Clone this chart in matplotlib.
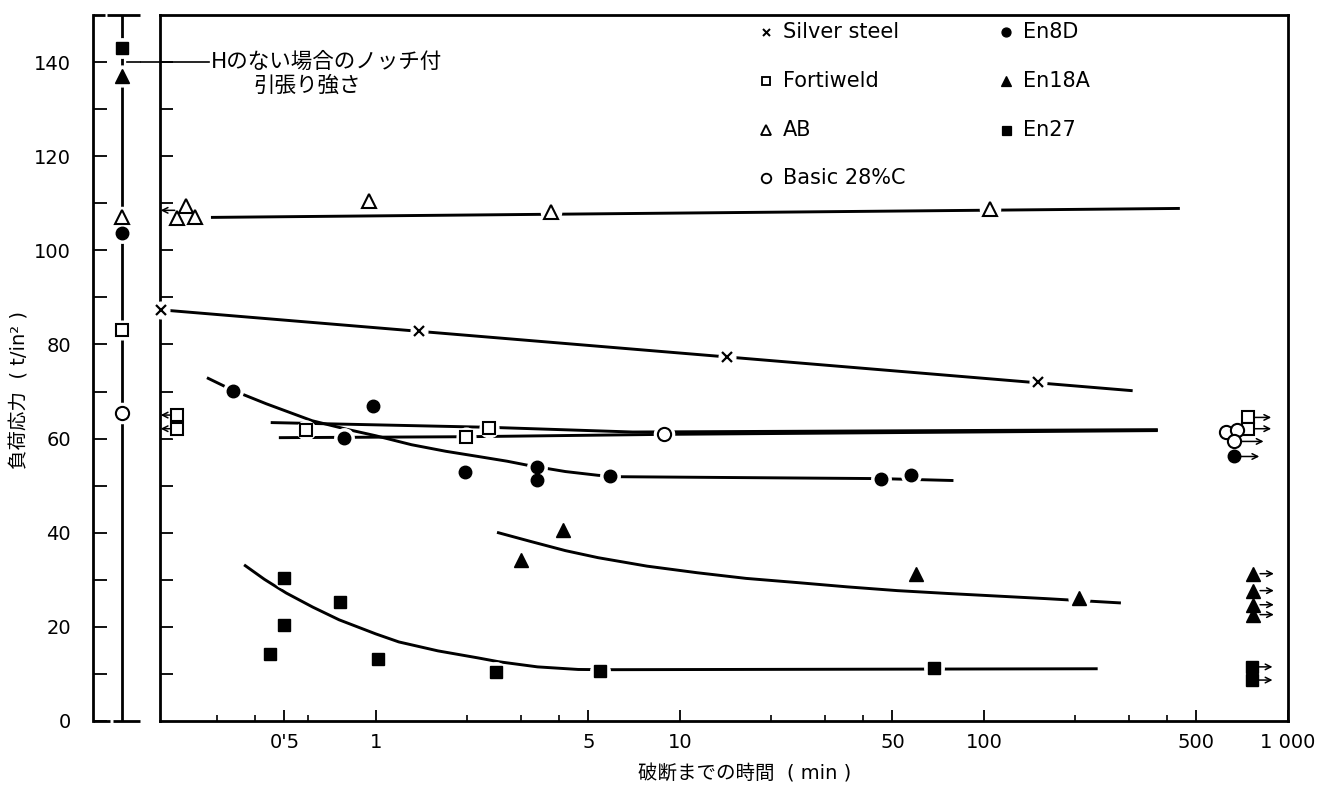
import matplotlib
matplotlib.use("Agg")
import matplotlib.pyplot as plt

plt.rcParams['font.family'] = ['DejaVu Sans', 'Noto Sans CJK JP']

W, H = 1322, 785

# ---- time to fracture (min) vs applied stress (t/in^2) ----
silver_t = [0.196, 1.39, 14.3, 151]
silver_s = [87.4, 82.8, 77.4, 72.1]
silver_fit_t = [0.21, 305]
silver_fit_s = [87.2, 70.2]

ab_t = [0.221, 0.238, 0.255, 0.95, 3.78, 104.6]
ab_s = [106.8, 109.4, 107.0, 110.4, 108.1, 108.7]
ab_fit_t = [0.29, 436]
ab_fit_s = [107.0, 108.9]

fortiweld_t = [0.59, 1.98, 2.36]
fortiweld_s = [61.9, 60.4, 62.3]
fortiweld_fit_t = [0.456, 2.36, 7.0, 369]
fortiweld_fit_s = [63.4, 62.4, 61.4, 61.9]

basic_t = [8.87]
basic_s = [60.9]
basic_fit_t = [0.485, 1.98, 8.87, 369]
basic_fit_s = [60.2, 60.4, 60.9, 61.7]

en8d_t = [0.34, 0.785, 0.98, 1.97, 3.40, 3.40, 5.89, 45.9, 57.7]
en8d_s = [70.2, 60.2, 67.0, 52.8, 54.0, 51.3, 52.1, 51.5, 52.3]
en8d_fit_t = [0.281, 0.34, 0.436, 0.617, 0.8, 1.0, 1.31, 1.70, 2.17, 2.7,
              3.18, 4.2, 5.38, 6.35, 45.6, 78.5]
en8d_fit_s = [72.8, 70.2, 67.4, 63.8, 62.0, 60.6, 58.7, 57.3, 56.2, 55.2,
              54.3, 53.0, 52.2, 51.9, 51.5, 51.1]

en18a_t = [3.01, 4.13, 59.8, 205]
en18a_s = [34.3, 40.6, 31.2, 26.2]
en18a_fit_t = [2.53, 3.25, 4.2, 5.38, 7.8, 11.4, 16.5, 24.4, 35.5, 51.9,
               75.7, 160, 279]
en18a_fit_s = [40.0, 38.1, 36.2, 34.7, 32.9, 31.5, 30.3, 29.4, 28.5, 27.7,
               27.1, 26.0, 25.1]

en27_t = [0.449, 0.50, 0.50, 0.762, 1.015, 2.49, 5.47, 68.6]
en27_s = [14.3, 30.4, 20.4, 25.3, 13.2, 10.4, 10.6, 11.3]
en27_fit_t = [0.372, 0.43, 0.507, 0.62, 0.757, 1.0, 1.19, 1.6, 2.17, 2.53,
              3.4, 4.63, 5.8, 234]
en27_fit_s = [33.0, 30.1, 27.2, 24.2, 21.5, 18.5, 16.8, 14.9, 13.4, 12.6,
              11.5, 10.95, 10.9, 11.1]

# specimens that fractured immediately on loading (arrow to the left)
fortiweld_short_t = [0.221, 0.221]
fortiweld_short_s = [65.0, 62.1]
ab_short_s = [108.5]

# unbroken specimens (arrow to the right)
fortiweld_run_t = [740, 740]
fortiweld_run_s = [64.5, 62.1]
basic_run_t = [627, 681, 665]
basic_run_s = [61.3, 61.9, 59.4]
basic_run_arrow = [False, False, True]
en8d_run_t = [665]
en8d_run_s = [56.2]
en18a_run_t = [768, 768, 768, 768]
en18a_run_s = [31.3, 27.7, 24.7, 22.6]
en27_run_t = [760, 760]
en27_run_s = [11.5, 8.7]

# notched tensile strength without hydrogen
notch_names = ['En27', 'En18A', 'AB', 'En8D', 'Fortiweld', 'Basic']
notch_s = [143, 137, 107, 103.6, 83, 65.5]

xtick_vals = [0.5, 1, 5, 10, 50, 100, 500, 1000]
xtick_labels = ["0'5", '1', '5', '10', '50', '100', '500', '1 000']
xminor_vals = [0.3, 0.4, 0.6, 2, 3, 4, 20, 30, 40, 200, 300, 400]

style = {
    'Silver steel': dict(marker='x', mfc='black', ms=7, mew=1.6),
    'Fortiweld': dict(marker='s', mfc='white', ms=8.5, mew=1.5),
    'AB': dict(marker='^', mfc='white', ms=9.5, mew=1.5),
    'Basic': dict(marker='o', mfc='white', ms=9.5, mew=1.5),
    'En8D': dict(marker='o', mfc='black', ms=9, mew=1.0),
    'En18A': dict(marker='^', mfc='black', ms=10, mew=1.0),
    'En27': dict(marker='s', mfc='black', ms=9, mew=1.0),
}

LW = 2.1


def fx(px):
    return px / W


def fy(py):
    return 1 - py / H


def marks(ax, t, s, key, **kw):
    st = style[key]
    # white halo so that lines stop short of each symbol
    ax.plot(t, s, linestyle='none', marker='o', ms=st['ms'] + 5, mfc='white',
            mec='white', zorder=3, clip_on=False, **kw)
    ax.plot(t, s, linestyle='none', marker=st['marker'], ms=st['ms'],
            mfc=st['mfc'], mec='black', mew=st['mew'], zorder=4,
            clip_on=False, **kw)


fig = plt.figure(figsize=(W / 100, H / 100), dpi=100)

# ---------------- main panel ----------------
ax = fig.add_axes([fx(160), fy(721), fx(1288) - fx(160), fy(15) - fy(721)])
ax.set_xscale('log')
ax.set_xlim(0.195, 1000)
ax.set_ylim(0, 150)
for sp in ax.spines.values():
    sp.set_linewidth(2.0)

ax.set_xticks(xtick_vals)
ax.set_xticklabels(xtick_labels, fontsize=14)
ax.set_xticks(xminor_vals, minor=True)
ax.xaxis.set_minor_formatter(plt.NullFormatter())
ax.tick_params(axis='x', which='major', direction='in', length=8, width=1.3,
               pad=9, top=False)
ax.tick_params(axis='x', which='minor', direction='in', length=4, width=1.2,
               top=False)
ax.set_yticks(range(10, 150, 10))
ax.set_yticklabels([])
ax.tick_params(axis='y', which='major', direction='in', length=9, width=1.3,
               right=False)

# fitted curves
for ft, fs in [(silver_fit_t, silver_fit_s), (ab_fit_t, ab_fit_s),
               (fortiweld_fit_t, fortiweld_fit_s), (basic_fit_t, basic_fit_s),
               (en8d_fit_t, en8d_fit_s), (en18a_fit_t, en18a_fit_s),
               (en27_fit_t, en27_fit_s)]:
    ax.plot(ft, fs, color='black', lw=LW, zorder=2, solid_joinstyle='round')

# test points
marks(ax, silver_t, silver_s, 'Silver steel')
marks(ax, ab_t, ab_s, 'AB')
marks(ax, fortiweld_t, fortiweld_s, 'Fortiweld')
marks(ax, basic_t, basic_s, 'Basic')
marks(ax, en8d_t, en8d_s, 'En8D')
marks(ax, en18a_t, en18a_s, 'En18A')
marks(ax, en27_t, en27_s, 'En27')

# immediate fracture on loading
marks(ax, fortiweld_short_t, fortiweld_short_s, 'Fortiweld')
for s in fortiweld_short_s:
    ax.annotate('', xy=(0.196, s), xytext=(0.21, s),
                arrowprops=dict(arrowstyle='->', lw=1.1, color='black',
                                shrinkA=0, shrinkB=0), zorder=5)
for s in ab_short_s:
    ax.annotate('', xy=(0.196, s), xytext=(0.218, s),
                arrowprops=dict(arrowstyle='->', lw=1.1, color='black',
                                shrinkA=0, shrinkB=0), zorder=5)


def runouts(t, s, key, factor, arrows=None):
    marks(ax, t, s, key)
    for i, (ti, si) in enumerate(zip(t, s)):
        if arrows is not None and not arrows[i]:
            continue
        ax.annotate('', xy=(ti * factor, si), xytext=(ti, si),
                    arrowprops=dict(arrowstyle='->', lw=1.1, color='black',
                                    shrinkA=5, shrinkB=0), zorder=5)


runouts(fortiweld_run_t, fortiweld_run_s, 'Fortiweld', 1.19)
runouts(basic_run_t, basic_run_s, 'Basic', 1.25, basic_run_arrow)
runouts(en8d_run_t, en8d_run_s, 'En8D', 1.21)
runouts(en18a_run_t, en18a_run_s, 'En18A', 1.17)
runouts(en27_run_t, en27_run_s, 'En27', 1.17)

# legend
legend_rows = [
    ('Silver steel', 'Silver steel', 766, 32),
    ('Fortiweld', 'Fortiweld', 766, 81),
    ('AB', 'AB', 766, 130),
    ('Basic', 'Basic 28%C', 766, 178),
    ('En8D', 'En8D', 1006, 32),
    ('En18A', 'En18A', 1006, 81),
    ('En27', 'En27', 1006, 130),
]
for key, label, px, py in legend_rows:
    st = style[key]
    fig.add_artist(plt.Line2D([fx(px)], [fy(py)], linestyle='none',
                              marker=st['marker'], ms=st['ms'] * 0.72,
                              mfc=st['mfc'], mec='black',
                              mew=st['mew'] * 0.9,
                              transform=fig.transFigure))
    fig.text(fx(px + 17), fy(py), label, fontsize=15, ha='left', va='center')

# ---------------- notched tensile strength panel ----------------
axl = fig.add_axes([fx(93), fy(721), fx(140) - fx(93), fy(15) - fy(721)])
axl.set_xlim(0, 1)
axl.set_ylim(0, 150)
for k in ('top', 'right', 'bottom'):
    axl.spines[k].set_visible(False)
axl.spines['left'].set_linewidth(2.0)
axl.set_xticks([])
axl.set_yticks(range(0, 150, 20))
axl.set_yticklabels([str(v) for v in range(0, 150, 20)], fontsize=14)
axl.set_yticks(range(10, 150, 20), minor=True)
axl.tick_params(axis='y', which='both', direction='in', length=10, width=1.3,
                pad=16)

xl = 0.62
kw = dict(color='black', lw=2.0, clip_on=False, solid_capstyle='butt')
axl.plot([xl, xl], [0, 150], zorder=2, **kw)
axl.plot([0, 0.26], [150, 150], **kw)
axl.plot([0.30, 1.0], [150, 150], **kw)
axl.plot([0, 0.36], [0, 0], **kw)
axl.plot([0.43, 1.0], [0, 0], **kw)
for name, s in zip(notch_names, notch_s):
    marks(axl, [xl], [s], name)

# annotation for the notched tensile strength
fig.add_artist(plt.Line2D([fx(209), fx(127)], [fy(62), fy(62)], color='black',
                          lw=1.2, transform=fig.transFigure))
ax.annotate('', xy=(fx(124), fy(62)), xycoords='figure fraction',
            xytext=(fx(140), fy(62)), textcoords='figure fraction',
            arrowprops=dict(arrowstyle='->', lw=1.2, color='black',
                            shrinkA=0, shrinkB=0))
fig.text(fx(211), fy(62), 'Hのない場合のノッチ付', fontsize=15.5, ha='left',
         va='center')
fig.text(fx(307), fy(86), '引張り強さ', fontsize=15.5, ha='center',
         va='center')

# axis titles
fig.text(fx(745), fy(774), '破断までの時間  ( min )', fontsize=14, ha='center',
         va='center')
fig.text(fx(20), fy(390), '負荷応力  ( t/in² )', fontsize=14, ha='center',
         va='center', rotation=90)

fig.savefig('out.png', dpi=100)
